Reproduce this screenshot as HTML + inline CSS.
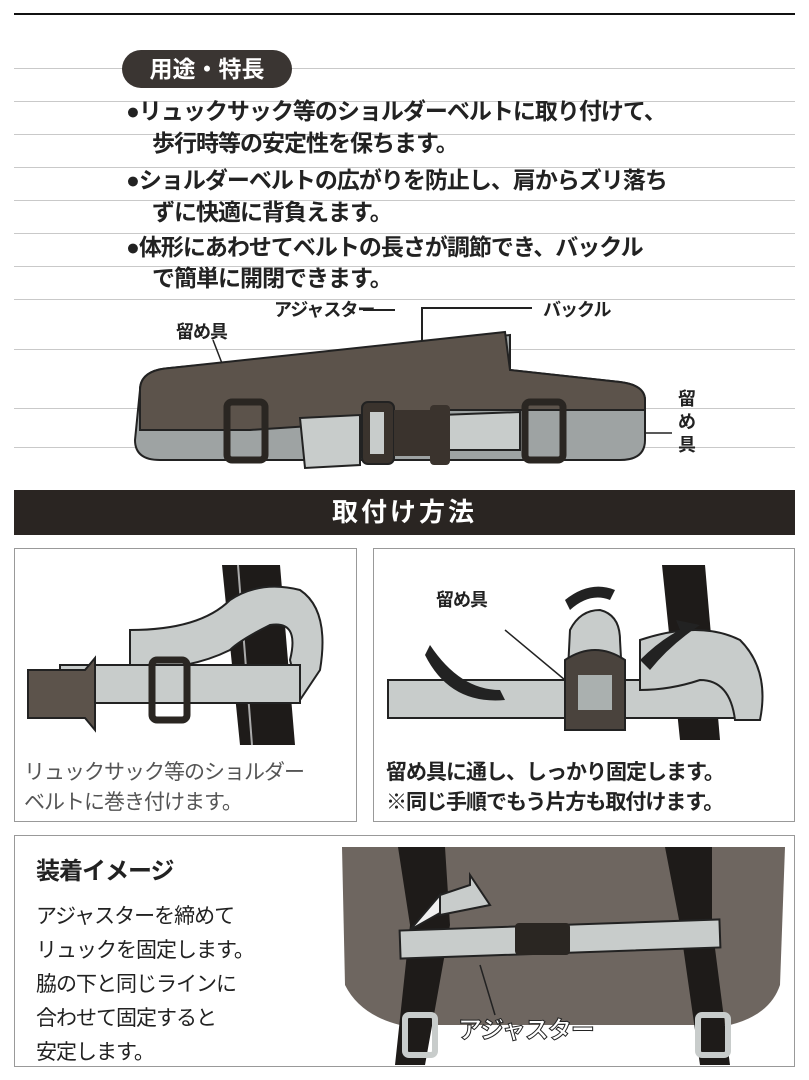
<!DOCTYPE html>
<html><head><meta charset="utf-8"><style>
body{margin:0;width:809px;height:1080px;background:#fff;position:relative;overflow:hidden;font-family:"Liberation Sans","Noto Sans CJK JP",sans-serif;color:#222}
.a{position:absolute}
.rl{position:absolute;left:14px;width:781px;height:1px;background:#c9c9c9}
.t{position:absolute;font-weight:bold;font-size:23px;white-space:nowrap;letter-spacing:-1px}
.pn{position:absolute;border:1.5px solid #999;background:#fff}
</style></head><body>
<div class="a" style="left:14px;top:13px;width:781px;height:2px;background:#111"></div>
<div class="rl" style="top:68px"></div><div class="rl" style="top:101px"></div><div class="rl" style="top:134px"></div>
<div class="rl" style="top:167px"></div><div class="rl" style="top:200px"></div><div class="rl" style="top:233px"></div>
<div class="rl" style="top:266px"></div><div class="rl" style="top:299px"></div><div class="rl" style="top:349px"></div>
<div class="rl" style="top:408px"></div><div class="rl" style="top:447px"></div>
<div class="a" style="left:122px;top:50px;width:170px;height:38px;border-radius:19px;background:#3a3532;color:#fff;font-weight:bold;font-size:23px;text-align:center;line-height:38px">用途・特長</div>
<div class="t" style="left:126px;top:92px">●リュックサック等のショルダーベルトに取り付けて、</div>
<div class="t" style="left:152px;top:124px">歩行時等の安定性を保ちます。</div>
<div class="t" style="left:126px;top:161px">●ショルダーベルトの広がりを防止し、肩からズリ落ち</div>
<div class="t" style="left:152px;top:193px">ずに快適に背負えます。</div>
<div class="t" style="left:126px;top:228px">●体形にあわせてベルトの長さが調節でき、バックル</div>
<div class="t" style="left:152px;top:259px">で簡単に開閉できます。</div>
<div class="t" style="left:274px;top:296px;font-size:18px">アジャスター</div>
<div class="t" style="left:543px;top:296px;font-size:18px">バックル</div>
<div class="t" style="left:176px;top:318px;font-size:18px">留め具</div>
<div class="t" style="left:678px;top:388px;font-size:18px;width:20px;line-height:23px;white-space:normal">留め具</div>
<svg class="a" style="left:0;top:290px" width="809" height="190">
<line x1="395" y1="20" x2="363" y2="20" stroke="#222" stroke-width="2"/>
<polyline points="532,18 422,18 422,130" fill="none" stroke="#222" stroke-width="2"/>
<line x1="213" y1="50" x2="240" y2="120" stroke="#222" stroke-width="1.5"/>
<line x1="565" y1="143" x2="672" y2="143" stroke="#222" stroke-width="1.5"/>
<path d="M140 100 Q140 80 170 78 L510 45 L510 80 L620 92 Q645 95 645 110 L645 150 Q645 170 620 170 L160 170 Q135 170 135 150 Z" fill="#9ea3a3" stroke="#222" stroke-width="2"/>
<path d="M140 100 Q140 80 170 78 L505 42 L510 80 L620 92 Q645 95 645 110 L645 120 L440 120 L400 130 L250 140 L140 140 Z" fill="#5c534b" stroke="#222" stroke-width="2"/>
<path d="M300 128 L360 125 L360 175 L305 178 Z" fill="#c8cccb" stroke="#222" stroke-width="2"/>
<path d="M440 125 L520 122 L520 160 L440 160 Z" fill="#c8cccb" stroke="#222" stroke-width="2"/>
<rect x="227" y="112" width="38" height="58" rx="5" fill="none" stroke="#2a2622" stroke-width="7"/>
<rect x="525" y="112" width="38" height="58" rx="5" fill="none" stroke="#2a2622" stroke-width="7"/>
<rect x="362" y="112" width="32" height="62" rx="6" fill="#3a332d" stroke="#222" stroke-width="2"/>
<rect x="394" y="120" width="36" height="46" fill="#3a332d"/>
<rect x="430" y="115" width="20" height="60" rx="4" fill="#3a332d"/>
<rect x="370" y="122" width="14" height="42" fill="#c8cccb"/>
</svg>
<div class="a" style="left:14px;top:490px;width:781px;height:45px;background:#2a2522;color:#fff;font-weight:bold;font-size:26px;text-align:center;line-height:45px;letter-spacing:3px">取付け方法</div>
<div class="pn" style="left:14px;top:548px;width:341px;height:272px"></div>
<div class="pn" style="left:373px;top:548px;width:420px;height:272px"></div>
<svg class="a" style="left:0;top:540px" width="809" height="290">
<polygon points="222,25 280,25 295,205 240,205" fill="#1e1b19"/>
<line x1="238" y1="25" x2="252" y2="205" stroke="#aaa" stroke-width="2"/>
<path d="M130 90 Q200 90 230 60 Q260 40 300 50 Q330 70 320 130 L300 160 L290 120 Q300 80 270 85 Q240 100 230 110 Q190 130 130 130 Z" fill="#c8cccb" stroke="#222" stroke-width="2"/>
<rect x="60" y="125" width="240" height="38" fill="#c8cccb" stroke="#222" stroke-width="2"/>
<path d="M28 130 L85 130 L95 118 L95 190 L85 178 L28 178 Z" fill="#5c534b" stroke="#222" stroke-width="2"/>
<rect x="152" y="120" width="35" height="60" rx="5" fill="none" stroke="#2a2622" stroke-width="7"/>
<polygon points="662,25 705,25 720,200 680,200" fill="#1e1b19"/>
<rect x="388" y="140" width="370" height="38" fill="#c8cccb" stroke="#222" stroke-width="2"/>
<path d="M640 100 Q700 80 740 100 Q770 130 760 180 L735 180 Q730 140 700 140 Q670 150 640 150 Z" fill="#c8cccb" stroke="#222" stroke-width="2"/>
<path d="M570 90 Q580 70 600 70 Q620 75 620 100 L625 190 L565 190 Z" fill="#c8cccb" stroke="#222" stroke-width="2"/>
<path d="M565 120 Q595 100 625 120 L625 190 L565 190 Z" fill="#4a433d" stroke="#222" stroke-width="2"/>
<rect x="578" y="135" width="34" height="35" fill="#aab0af"/>
<path d="M430 105 Q460 150 500 150 L505 160 Q450 165 425 115 Z" fill="#222"/>
<path d="M640 120 Q660 100 680 90 L676 80 L700 85 Q670 105 650 130 Z" fill="#222"/>
<path d="M565 60 Q590 40 615 50 L610 60 Q590 52 570 70 Z" fill="#222"/>
<line x1="505" y1="90" x2="565" y2="140" stroke="#222" stroke-width="1.5"/>
</svg>
<div class="t" style="left:436px;top:586px;font-size:18px">留め具</div>
<div class="t" style="left:24px;top:756px;font-size:21px;color:#555;font-weight:normal">リュックサック等のショルダー</div>
<div class="t" style="left:24px;top:786px;font-size:21px;color:#555;font-weight:normal">ベルトに巻き付けます。</div>
<div class="t" style="left:386px;top:756px;font-size:21px">留め具に通し、しっかり固定します。</div>
<div class="t" style="left:386px;top:786px;font-size:21px">※同じ手順でもう片方も取付けます。</div>
<div class="pn" style="left:14px;top:835px;width:779px;height:230px"></div>
<div class="t" style="left:36px;top:851px;font-size:24px">装着イメージ</div>
<div class="t" style="left:36px;top:900px;font-size:21px;font-weight:normal;line-height:34px;white-space:normal;width:300px">アジャスターを締めて<br>リュックを固定します。<br>脇の下と同じラインに<br>合わせて固定すると<br>安定します。</div>
<svg class="a" style="left:0;top:835px" width="809" height="232">
<path d="M342 12 L785 12 L780 150 Q770 180 730 190 L400 190 Q360 180 345 150 Z" fill="#6e6660"/>
<polygon points="398,12 445,12 450,90 425,230 395,230 410,90" fill="#1e1b19"/>
<polygon points="665,12 712,12 712,90 730,230 700,230 680,90" fill="#1e1b19"/>
<rect x="400" y="90" width="320" height="28" fill="#c8cccb" stroke="#222" stroke-width="2" transform="rotate(-2 560 104)"/>
<rect x="515" y="88" width="55" height="32" rx="4" fill="#2a2622"/>
<path d="M440 60 L470 50 L470 40 L490 70 L440 80 Z" fill="#c8cccb" stroke="#222" stroke-width="2"/>
<path d="M410 95 L440 60 L440 78 Z" fill="#f0f0f0" stroke="#222" stroke-width="2"/>
<rect x="405" y="180" width="30" height="40" rx="4" fill="none" stroke="#c8cccb" stroke-width="6"/>
<rect x="698" y="180" width="30" height="40" rx="4" fill="none" stroke="#c8cccb" stroke-width="6"/>
<line x1="480" y1="130" x2="495" y2="180" stroke="#222" stroke-width="1.5"/>
</svg>
<div class="t" style="left:458px;top:1010px;font-size:24px;color:#fff;-webkit-text-stroke:1px #222">アジャスター</div>
</body></html>
